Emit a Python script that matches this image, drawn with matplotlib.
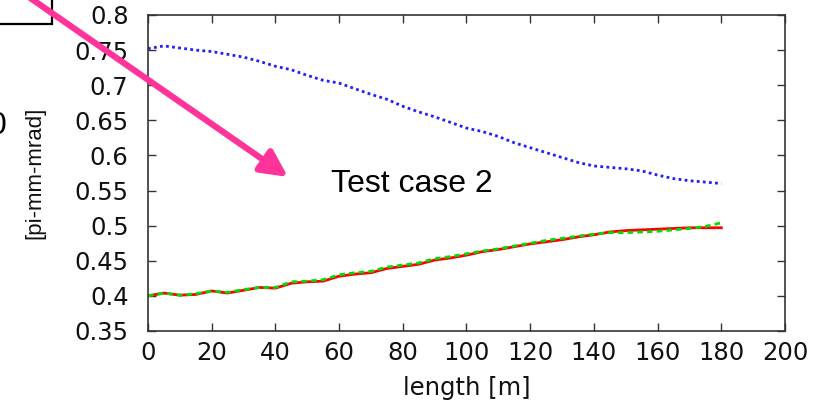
import matplotlib
matplotlib.use('Agg')
import matplotlib.pyplot as plt
from matplotlib.patches import FancyArrowPatch, Rectangle

# emittance along the beamline, sampled every 5 m
length = list(range(0, 185, 5))
emit_blue = [0.752, 0.756, 0.753, 0.750, 0.748, 0.744, 0.740, 0.734, 0.727, 0.722,
             0.714, 0.707, 0.703, 0.695, 0.687, 0.680, 0.670, 0.662, 0.655, 0.647,
             0.639, 0.634, 0.627, 0.618, 0.611, 0.604, 0.597, 0.590, 0.585, 0.583,
             0.581, 0.578, 0.572, 0.567, 0.564, 0.562, 0.560]
emit_red = [0.400, 0.404, 0.401, 0.402, 0.407, 0.404, 0.408, 0.412, 0.411, 0.418,
            0.420, 0.421, 0.428, 0.431, 0.433, 0.439, 0.442, 0.445, 0.451, 0.454,
            0.458, 0.463, 0.466, 0.470, 0.474, 0.477, 0.480, 0.484, 0.487, 0.491,
            0.493, 0.494, 0.495, 0.496, 0.497, 0.497, 0.497]
emit_green = [0.400, 0.404, 0.401, 0.403, 0.407, 0.405, 0.409, 0.412, 0.412, 0.420,
              0.421, 0.423, 0.430, 0.433, 0.435, 0.441, 0.444, 0.447, 0.453, 0.456,
              0.460, 0.464, 0.467, 0.471, 0.475, 0.479, 0.482, 0.485, 0.488, 0.490,
              0.490, 0.491, 0.492, 0.494, 0.496, 0.499, 0.504]

xticks = list(range(0, 201, 20))
yticks = [0.35, 0.4, 0.45, 0.5, 0.55, 0.6, 0.65, 0.7, 0.75, 0.8]

fig = plt.figure(figsize=(8.28, 4.01), dpi=100)
ax = fig.add_axes([0.1787, 0.1746, 0.9481 - 0.1787, 0.9626 - 0.1746])

ax.plot(length, emit_blue, color='#2020ff', lw=2.0, linestyle=(0, (1, 1.2)))
ax.plot(length, emit_red, color='#ff0000', lw=2.0)
ax.plot(length, emit_green, color='#00dd00', lw=2.0, linestyle=(0, (2, 1.5)))

ax.set_xlim(0, 200)
ax.set_ylim(0.35, 0.8)
ax.set_xticks(xticks)
ax.set_yticks(yticks)
ax.set_xticklabels([str(t) for t in xticks])
ax.set_yticklabels(['%g' % t for t in yticks])
ax.tick_params(direction='in', length=6, width=1, color='#333333',
               top=True, right=True, labelsize=17.5, labelcolor='#111111')
ax.tick_params(axis='y', pad=14)
ax.tick_params(axis='x', pad=7)
for s in ax.spines.values():
    s.set_color('#333333')
    s.set_linewidth(1.2)

ax.set_xlabel('length [m]', fontsize=17.5, labelpad=8, color='#111111')
fig.text(35 / 828, 1 - 173 / 401, '[pi-mm-mrad]', rotation=90, ha='center', va='center',
         fontsize=16, family='Liberation Sans', color='#111111')

ax.text(0.415, 0.465, 'Test case 2', transform=ax.transAxes, fontsize=23,
        family='Liberation Sans', ha='center', va='center')

# cut-off label box and leftover text at the left edge
fig.add_artist(Rectangle((-60 / 828, 1 - 24 / 401), 112 / 828, 80 / 401,
                         transform=fig.transFigure, fill=False, lw=1.6,
                         edgecolor='black', clip_on=False))
fig.text(6 / 828, 1 - 126 / 401, '0', fontsize=23, family='Liberation Sans',
         ha='right', va='center')

arrow = FancyArrowPatch((0, 1 + 23 / 401), (288 / 828, 1 - 177 / 401),
                        transform=fig.transFigure,
                        arrowstyle='-|>,head_length=0.8,head_width=0.4',
                        mutation_scale=20, lw=4.5, color='#ff3399',
                        shrinkA=0, shrinkB=0, zorder=10)
fig.add_artist(arrow)

fig.savefig('out.png', dpi=100)
